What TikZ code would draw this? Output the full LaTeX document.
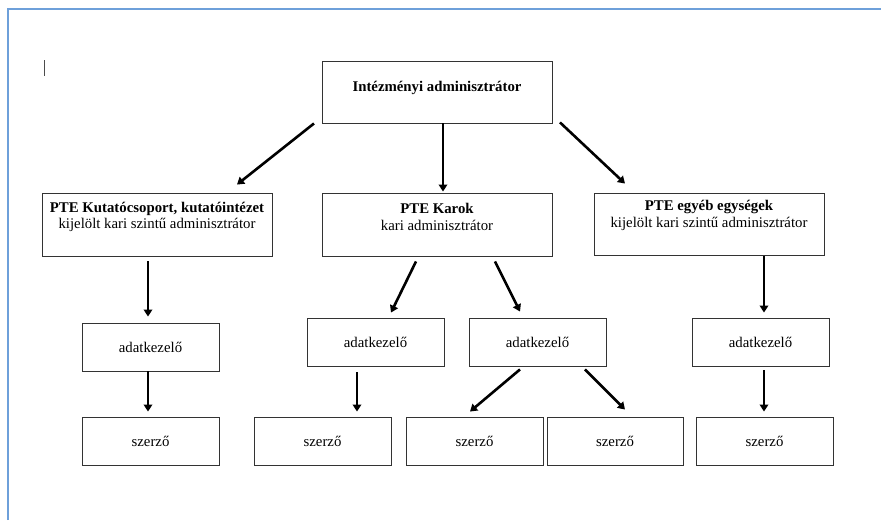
\documentclass[tikz,border=0pt]{standalone}
\usepackage{fontspec}
\setmainfont{Liberation Serif}
\usetikzlibrary{calc,arrows.meta}
\definecolor{framebl}{RGB}{110,160,218}
\tikzset{
  box/.style={draw=black!80, line width=0.9pt, minimum width=#1, inner sep=0pt},
  box/.default=137pt,
  txt/.style={font=\fontsize{14.8}{16.5}\selectfont, align=center, inner sep=0pt},
  arr/.style={line width=2.6pt, -{Triangle[length=7pt,width=8.5pt]}},
}
\begin{document}
\begin{tikzpicture}[x=1pt,y=-1pt]
\useasboundingbox (0,0) rectangle (881,520);
% frame
\draw[framebl, line width=2pt] (8,520) -- (8,9) -- (881,9);
% cursor
\draw[black!70, line width=0.8pt] (44.5,60) -- (44.5,76);
% level 1
\node[box=230pt, minimum height=62pt] (top) at (437,92) {};
\node[txt, font=\fontsize{14.8}{16}\selectfont\bfseries] (topt) at (437,88) {Intézményi adminisztrátor};
% level 2
\node[box=230pt, minimum height=63pt] (l2l) at (157,224.5) {};
\node[txt] (l2lt) at (157,217) {\textbf{PTE Kutatócsoport, kutatóintézet}\\kijelölt kari szintű adminisztrátor};
\node[box=230pt, minimum height=63pt] (l2m) at (437,224.5) {};
\node[txt] (l2mt) at (437,217) {\textbf{PTE Karok}\\kari adminisztrátor};
\node[box=230pt, minimum height=62pt] (l2r) at (709,224) {};
\node[txt] (l2rt) at (709,215.5) {\textbf{PTE egyéb egységek}\\kijelölt kari szintű adminisztrátor};
% level 3
\node[box, minimum height=48pt, txt] (a1) at (150.5,347) {adatkezelő};
\node[box, minimum height=48pt, txt] (a2) at (375.5,342) {adatkezelő};
\node[box, minimum height=48pt, txt] (a3) at (537.5,342) {adatkezelő};
\node[box, minimum height=48pt, txt] (a4) at (760.5,342) {adatkezelő};
% level 4
\node[box, minimum height=48pt, txt] (s1) at (150.5,441) {szerző};
\node[box, minimum height=48pt, txt] (s2) at (322.5,441) {szerző};
\node[box, minimum height=48pt, txt] (s3) at (474.5,441) {szerző};
\node[box=136pt, minimum height=48pt, txt] (s4) at (615,441) {szerző};
\node[box, minimum height=48pt, txt] (s5) at (764.5,441) {szerző};
% arrows
\draw[arr] ($(top.south)+(-123,0)$) -- ($(l2l.north)+(80,-8)$);
\draw[arr] ($(top.south)+(6,0)$) -- ($(l2m.north)+(6,-1)$);
\draw[arr] ($(top.south)+(123,-1)$) -- ($(l2r.north)+(-84,-9)$);
\draw[arr] ($(l2l.south)+(-9,5)$) -- ($(a1.north)+(-2.5,-6)$);
\draw[arr] ($(l2m.south)+(-21,5)$) -- ($(a2.north)+(15.5,-5)$);
\draw[arr] ($(l2m.south)+(58,5)$) -- ($(a3.north)+(-17.5,-6)$);
\draw[arr] ($(l2r.south)+(55,1)$) -- ($(a4.north)+(3.5,-5)$);
\draw[arr] ($(a1.south)+(-2.5,0)$) -- ($(s1.north)+(-2.5,-5)$);
\draw[arr] ($(a2.south)+(-18.5,6)$) -- ($(s2.north)+(34.5,-5)$);
\draw[arr] ($(a3.south)+(-17.5,3)$) -- ($(s3.north)+(-4.5,-5)$);
\draw[arr] ($(a3.south)+(47.5,3)$) -- ($(s4.north)+(10,-7)$);
\draw[arr] ($(a4.south)+(3.5,4)$) -- ($(s5.north)+(-0.5,-5)$);
\end{tikzpicture}
\end{document}
